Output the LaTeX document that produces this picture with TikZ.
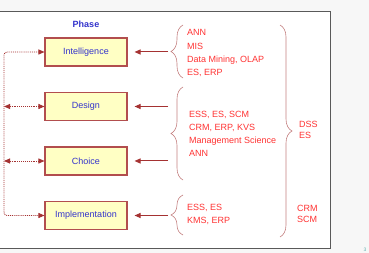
\documentclass[tikz,border=0pt]{standalone}
\usepackage{fontspec}
\setmainfont{Liberation Sans}
\usepackage{tikz}
\usetikzlibrary{arrows.meta,positioning,decorations.pathreplacing}

\definecolor{phaseBlue}{RGB}{51,51,204}
\definecolor{boxFill}{RGB}{255,255,196}
\definecolor{boxLine}{RGB}{178,78,78}
\definecolor{toolRed}{RGB}{255,51,51}
\definecolor{arrowRed}{RGB}{165,50,50}
\definecolor{braceRed}{RGB}{196,128,128}

\begin{document}
\begin{tikzpicture}[
    x=1pt, y=-1pt,
    font=\fontsize{9}{13.2}\selectfont,
    phaseBox/.style={
        rectangle, draw=boxLine, line width=1.1pt, fill=boxFill,
        minimum width=82pt, minimum height=28pt, inner sep=0pt, text=phaseBlue
    },
    % lists are placed by the baseline of their last line
    toolList/.style={
        anchor=base west, align=left, inner sep=0pt, text=toolRed
    },
    systemList/.style={
        anchor=base west, align=left, inner sep=0pt, text=toolRed,
        font=\fontsize{9}{11}\selectfont
    },
    feedEdge/.style={
        densely dotted, line width=0.9pt, draw=arrowRed,
        {Triangle[length=6pt, width=5pt]}-{Triangle[length=6pt, width=5pt]}
    },
    toolEdge/.style={
        -{Triangle[length=6pt, width=5pt]}, line width=1pt, draw=arrowRed, shorten >=7pt
    },
    groupBrace/.style={
        draw=braceRed, line width=0.6pt, decorate, decoration={brace, amplitude=12pt}
    }
]

% Slide background and frame
\useasboundingbox (0,0) rectangle (369,253);
\fill[gray!6] (0,0) rectangle (369,253);
\fill[white] (0,11) rectangle (330,248);
\draw[gray!70!black, line width=0.9pt] (0,11) -- (330,11) -- (330,248) -- (0,248);

% Phases of the decision process
\node[font=\fontsize{9}{9}\selectfont\bfseries, text=phaseBlue] (phaseTitle) at (86,24) {Phase};
\node[phaseBox] (intel)  at (86,52)    {Intelligence};
\node[phaseBox] (design) at (86,106.5) {Design};
\node[phaseBox] (choice) at (86,161)   {Choice};
\node[phaseBox] (impl)   at (86,215.5) {Implementation};

% Feedback rail on the left
\coordinate (railTop) at (4,52);
\coordinate (railBot) at (4,215.5);
\coordinate (railDesign) at (4,106.5);
\coordinate (railChoice) at (4,161);
\draw[feedEdge, rounded corners=3pt] (intel.west) -- (railTop) -- (railBot) -- (impl.west);
\draw[feedEdge] (railDesign) -- (design.west);
\draw[feedEdge] (railChoice) -- (choice.west);

% Support tools per phase
\coordinate (toolIntel)  at (168,52);
\coordinate (toolDesign) at (168,106.5);
\coordinate (toolChoice) at (168,161);
\coordinate (toolImpl)   at (168,215.5);
\draw[toolEdge] (toolIntel) -- (intel.east);
\draw[toolEdge] (toolDesign) -- (design.east);
\draw[toolEdge] (toolChoice) -- (choice.east);
\draw[toolEdge] (toolImpl) -- (impl.east);

\draw[groupBrace] (183,78) -- (183,25);
\draw[groupBrace] (183,180) -- (183,87);
\draw[groupBrace] (183,235) -- (183,195);

\node[toolList] (toolsIntel) at (187,75.5)  {ANN\\MIS\\Data Mining, OLAP\\ES, ERP};
\node[toolList] (toolsDesign) at (189,157) {ESS, ES, SCM\\CRM, ERP, KVS\\Management Science\\ANN};
\node[toolList] (toolsImpl) at (187,224) {ESS, ES\\KMS, ERP};

% Systems spanning all phases
\draw[groupBrace] (280,25) -- (280,237);
\node[systemList] (sysDss) at (299,138.5) {DSS\\ES};
\node[systemList] (sysCrm) at (297,223) {CRM\\SCM};

% Page number
\node[font=\fontsize{5}{5}\selectfont, text=teal!60] (pageNo) at (365,250) {3};

\end{tikzpicture}
\end{document}
